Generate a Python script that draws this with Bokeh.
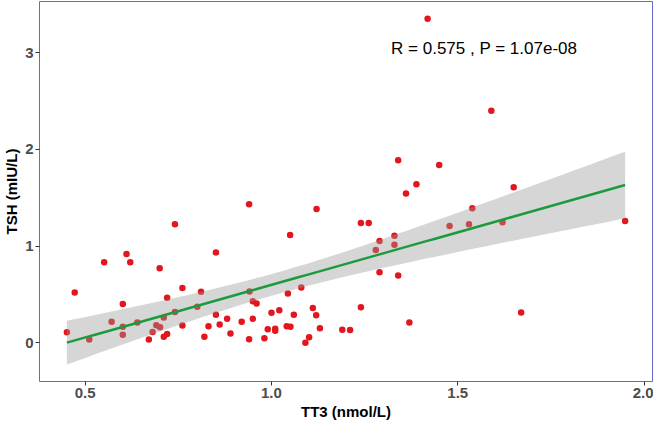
import numpy as np
from bokeh.plotting import figure
from bokeh.models import Range1d, FixedTicker
from bokeh.core.properties import value
from bokeh.embed import file_html
from bokeh.resources import INLINE

# ---- data ----
tt3 = [1.419, 1.590, 1.340, 1.450, 1.389, 1.361, 1.650, 0.741, 0.940, 1.121,
       1.050, 1.240, 1.261, 1.949, 1.478, 1.530, 1.539, 1.620, 1.290, 1.330,
       1.330, 1.280, 0.851, 0.611, 0.551, 0.621, 0.700, 1.290, 1.340, 0.472,
       0.761, 0.811, 1.080, 0.941, 1.044, 0.720, 0.601, 0.801, 0.950, 0.960,
       1.111, 1.240, 0.741, 0.711, 0.571, 0.640, 0.851, 0.881, 0.920, 0.950,
       1.000, 1.021, 1.060, 1.120, 0.601, 0.691, 0.701, 0.761, 0.831, 0.861,
       0.451, 0.681, 0.720, 0.711, 0.601, 0.671, 0.511, 0.820, 0.890, 0.940,
       0.981, 0.990, 1.010, 1.010, 1.041, 1.051, 1.130, 1.101, 1.091, 1.190,
       1.211, 1.370, 1.670]
tsh = [3.352, 2.399, 1.887, 1.840, 1.640, 1.545, 1.608, 1.227, 1.433, 1.384,
       1.115, 1.239, 1.239, 1.259, 1.207, 1.227, 1.391, 1.246, 1.052, 1.108,
       1.013, 0.961, 0.934, 0.918, 0.833, 0.833, 0.770, 0.731, 0.695, 0.520,
       0.567, 0.527, 0.573, 0.530, 0.510, 0.465, 0.402, 0.372, 0.429, 0.406,
       0.360, 0.369, 0.320, 0.261, 0.219, 0.209, 0.291, 0.248, 0.219, 0.248,
       0.310, 0.337, 0.291, 0.284, 0.167, 0.182, 0.160, 0.179, 0.172, 0.189,
       0.110, 0.113, 0.091, 0.064, 0.084, 0.034, 0.034, 0.064, 0.097, 0.037,
       0.047, 0.140, 0.146, 0.126, 0.172, 0.166, 0.150, 0.057, 0.002, 0.136,
       0.133, 0.209, 0.313]
x_ticks = [0.5, 1.0, 1.5, 2.0]
y_ticks = [0, 1, 2, 3]
stat_label = "R = 0.575 , P =  1.07e-08"
T975 = 1.9897  # t quantile, df = n - 2

# ---- linear fit with 95% confidence band (geom_smooth(method="lm")) ----
xa = np.array(tt3)
ya = np.array(tsh)
n = len(xa)
b1, b0 = np.polyfit(xa, ya, 1)
resid = ya - (b0 + b1 * xa)
s = np.sqrt(np.sum(resid ** 2) / (n - 2))
xm = xa.mean()
sxx = np.sum((xa - xm) ** 2)
xs = np.linspace(xa.min(), xa.max(), 80)
fit = b0 + b1 * xs
se = s * np.sqrt(1.0 / n + (xs - xm) ** 2 / sxx)
lo = fit - T975 * se
hi = fit + T975 * se

p = figure(width=653, height=422, output_backend="svg", toolbar_location=None,
           x_range=Range1d(0.3775, 2.0225), y_range=Range1d(-0.40, 3.53),
           min_border_left=0, min_border_right=1, min_border_top=1, min_border_bottom=0)

p.scatter(tt3, tsh, size=6.5, fill_color="#e3161d", line_color=None)
p.varea(x=xs, y1=lo, y2=hi, fill_color="#999999", fill_alpha=0.4)
p.line(xs, fit, line_color="#1c9a3e", line_width=2.5)

p.text(x=[1.321], y=[3.04], text=[stat_label], text_baseline="middle", text_align="left",
       text_font=value("Liberation Sans"), text_font_size="17px", text_color="black")

p.background_fill_color = "white"
p.border_fill_color = "white"
p.outline_line_color = "#6868c8"
p.outline_line_width = 1
p.xgrid.grid_line_color = None
p.ygrid.grid_line_color = None

p.xaxis.ticker = FixedTicker(ticks=x_ticks)
p.yaxis.ticker = FixedTicker(ticks=y_ticks)
p.xaxis.major_label_overrides = {t: f"{t:.1f}" for t in x_ticks}
for ax in (p.xaxis[0], p.yaxis[0]):
    ax.axis_line_color = None
    ax.minor_tick_line_color = None
    ax.major_tick_out = 4
    ax.major_tick_in = 0
    ax.major_tick_line_color = "#333333"
    ax.major_label_text_font = "Liberation Sans"
    ax.major_label_text_font_size = "15px"
    ax.major_label_text_font_style = "bold"
    ax.major_label_text_color = "#4d4d4d"
    ax.major_label_standoff = 2
    ax.axis_label_text_font = "Liberation Sans"
    ax.axis_label_text_font_size = "15px"
    ax.axis_label_text_font_style = "bold"
    ax.axis_label_text_color = "black"
    ax.axis_label_standoff = 2
p.xaxis.axis_label = "TT3 (nmol/L)"
p.yaxis.axis_label = "TSH (mIU/L)"
p.yaxis.major_label_orientation = "horizontal"

open("out.html", "w").write(file_html(p, INLINE))
